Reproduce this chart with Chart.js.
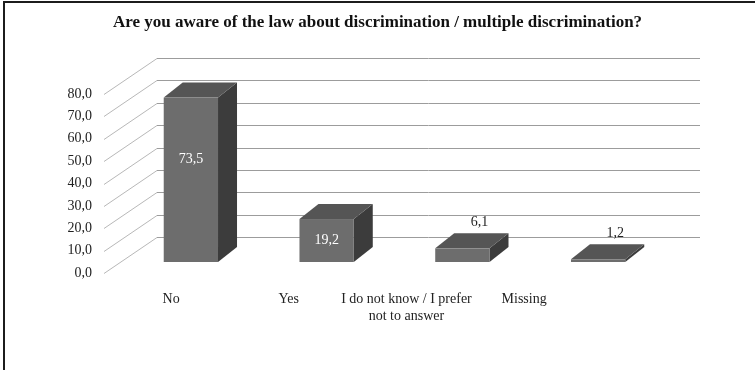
<!DOCTYPE html>
<html>
<head>
<meta charset="utf-8">
<script src="https://cdn.jsdelivr.net/npm/chart.js@4.4.0/dist/chart.umd.min.js"></script>
<style>
  html, body { margin: 0; padding: 0; background: #fff; }
</style>
</head>
<body>
<canvas id="chart" width="755" height="370"></canvas>
<script>
const title = 'Are you aware of the law about discrimination / multiple discrimination?';
const categories = ['No', 'Yes', ['I do not know / I prefer', 'not to answer'], 'Missing'];
const percentages = [73.5, 19.2, 6.1, 1.2];
const yTickValues = [0, 10, 20, 30, 40, 50, 60, 70, 80];

const SERIF = '"Liberation Serif", "Times New Roman", serif';
const fmt = v => v.toFixed(1).replace('.', ',');

// fake 3D: offsets from the front plane (where the axes live)
const WALL = { dx: 50, dy: -36 };       // back wall
const BAR_FRONT = { dx: 16, dy: -11 };  // front face of the columns
const BAR_DEPTH = { dx: 19, dy: -15 };  // column thickness

const COL_FRONT = '#6d6d6d';
const COL_TOP = '#555555';
const COL_SIDE = '#3c3c3c';

const framePlugin = {
  id: 'frame',
  beforeDraw(chart) {
    const ctx = chart.ctx;
    ctx.save();
    ctx.fillStyle = '#fff';
    ctx.fillRect(0, 0, chart.width, chart.height);
    ctx.strokeStyle = '#1c1c1c';
    ctx.lineWidth = 2;
    ctx.strokeRect(4, 2, chart.width + 20, chart.height + 20);

    ctx.fillStyle = '#111';
    ctx.font = 'bold 17px ' + SERIF;
    ctx.textAlign = 'center';
    ctx.textBaseline = 'middle';
    ctx.fillText(title, chart.width / 2, 23);
    ctx.restore();
  }
};

const wallPlugin = {
  id: 'wall',
  beforeDatasetsDraw(chart) {
    const { ctx, chartArea: a, scales: { y } } = chart;
    ctx.save();
    ctx.lineWidth = 1;
    yTickValues.forEach(v => {
      const py = Math.round(y.getPixelForValue(v)) + 0.5;
      // side wall diagonal
      ctx.strokeStyle = '#b8b8b8';
      ctx.beginPath();
      ctx.moveTo(a.left - 3, py);
      ctx.lineTo(a.left + WALL.dx, py + WALL.dy);
      ctx.stroke();
      // back wall gridline
      ctx.strokeStyle = '#9c9c9c';
      ctx.beginPath();
      ctx.moveTo(a.left + WALL.dx, py + WALL.dy);
      ctx.lineTo(a.right + WALL.dx, py + WALL.dy);
      ctx.stroke();
    });
    ctx.restore();
  }
};

const columnsPlugin = {
  id: 'columns',
  afterDatasetsDraw(chart) {
    const ctx = chart.ctx;
    const meta = chart.getDatasetMeta(0);
    ctx.save();
    meta.data.forEach((bar, i) => {
      const { x, y, base, width } = bar.getProps(['x', 'y', 'base', 'width'], true);
      const L = x - width / 2 + BAR_FRONT.dx;
      const R = x + width / 2 + BAR_FRONT.dx;
      const T = y + BAR_FRONT.dy;
      const B = base + BAR_FRONT.dy;
      const dx = BAR_DEPTH.dx, dy = BAR_DEPTH.dy;

      // side face
      ctx.fillStyle = COL_SIDE;
      ctx.beginPath();
      ctx.moveTo(R, T); ctx.lineTo(R + dx, T + dy); ctx.lineTo(R + dx, B + dy); ctx.lineTo(R, B);
      ctx.closePath(); ctx.fill();
      // top face
      ctx.fillStyle = COL_TOP;
      ctx.beginPath();
      ctx.moveTo(L, T); ctx.lineTo(L + dx, T + dy); ctx.lineTo(R + dx, T + dy); ctx.lineTo(R, T);
      ctx.closePath(); ctx.fill();
      // front face
      ctx.fillStyle = COL_FRONT;
      ctx.fillRect(L, T, R - L, B - T);

      // value label
      const v = percentages[i];
      ctx.font = '14px ' + SERIF;
      ctx.textAlign = 'center';
      ctx.textBaseline = 'middle';
      if (v >= 10) {
        ctx.fillStyle = '#fff';
        ctx.fillText(fmt(v), (L + R) / 2, T + Math.min((B - T) / 2, 62));
      } else {
        ctx.fillStyle = '#222';
        ctx.fillText(fmt(v), (L + R) / 2 + dx - 2, T + dy - 11);
      }
    });
    ctx.restore();
  }
};

new Chart(document.getElementById('chart'), {
  type: 'bar',
  data: {
    labels: categories,
    datasets: [{
      data: percentages,
      backgroundColor: 'rgba(0,0,0,0)',
      borderWidth: 0,
      categoryPercentage: 1,
      barPercentage: 0.4
    }]
  },
  options: {
    responsive: false,
    animation: false,
    events: [],
    layout: { padding: { top: 94, right: 105, bottom: 0, left: 0 } },
    plugins: {
      legend: { display: false },
      tooltip: { enabled: false },
      title: { display: false }
    },
    scales: {
      // positions the columns
      x: {
        display: false
      },
      // category names sit on their own, tighter axis along the floor edge
      xLabels: {
        type: 'linear',
        position: 'bottom',
        offset: false,
        bounds: 'data',
        min: -0.545,
        max: 4.07,
        grid: { display: false, drawTicks: false, offset: false },
        border: { display: false },
        afterFit: s => { s.height = 97; },
        afterBuildTicks: s => { s.ticks = categories.map((c, i) => ({ value: i })); },
        ticks: {
          color: '#222',
          font: { family: SERIF, size: 14, lineHeight: 1.2 },
          padding: 18,
          maxRotation: 0,
          autoSkip: false,
          callback: v => categories[v]
        }
      },
      y: {
        min: 0,
        max: 80,
        grid: { display: false, drawTicks: false },
        border: { display: false },
        afterFit: s => { s.width = 107; },
        afterBuildTicks: s => { s.ticks = yTickValues.map(v => ({ value: v })); },
        ticks: {
          color: '#222',
          font: { family: SERIF, size: 14 },
          padding: 15,
          callback: v => fmt(v)
        }
      }
    }
  },
  plugins: [framePlugin, wallPlugin, columnsPlugin]
});
</script>
</body>
</html>
